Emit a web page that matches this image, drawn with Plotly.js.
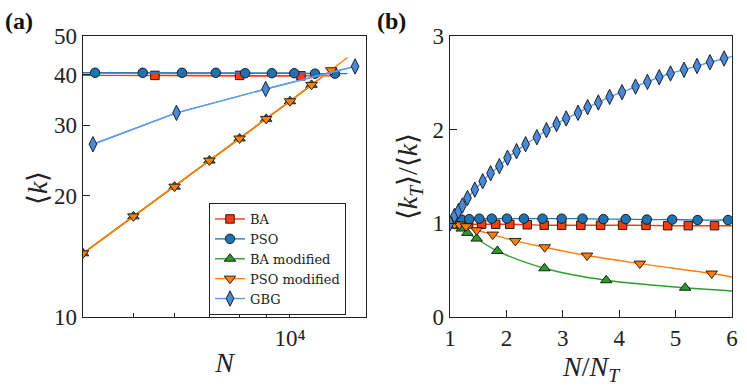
<!DOCTYPE html>
<html>
<head>
<meta charset="utf-8">
<script src="https://cdn.plot.ly/plotly-3.0.1.min.js"></script>
<style>
  html, body { margin: 0; padding: 0; background: #fff; }
  #chart { width: 747px; height: 387px; }
</style>
</head>
<body>
<div id="chart"></div>
<script>
// ---- panel (a): <k> vs N ----
const aN_BA = [4000, 5500, 8000, 10500, 12500];
const aK_BA = [39.9, 39.9, 39.9, 39.8, 39.8];
const aMark_BA = [1, 2, 3];

const aN_PSO = [4000, 4220, 5210, 6200, 7200, 8200, 9230, 10190, 11170, 12200, 12900];
const aK_PSO = [40.5, 40.5, 40.5, 40.5, 40.5, 40.4, 40.4, 40.4, 40.3, 40.3, 40.3];
const aMark_PSO = [1, 2, 3, 4, 5, 6, 7, 8, 9];

const aN_BAm = [4000, 5000, 6000, 7000, 8000, 9000, 10000, 11000];
const aK_BAm = [14.4, 17.8, 21.1, 24.5, 27.8, 31.1, 34.4, 37.8];
const aMark_BAm = [0, 1, 2, 3, 4, 5, 6, 7];

const aN_PSOm = [4000, 5000, 6000, 7000, 8000, 9000, 10000, 11000, 12000, 12900];
const aK_PSOm = [14.4, 17.8, 21.1, 24.5, 27.8, 31.1, 34.4, 37.8, 41.1, 44.2];
const aMark_PSOm = [0, 1, 2, 3, 4, 5, 6, 7, 8];

const aN_GBG = [4180, 6050, 8980, 13340];
const aK_GBG = [26.9, 32.2, 36.9, 42.0];
const aMark_GBG = [0, 1, 2, 3];

// ---- panel (b): <k_T>/<k> vs N/N_T ----
const bX_BA = [1.0, 1.14, 1.33, 1.56, 1.81, 2.06, 2.37, 2.67, 2.98, 3.32, 3.67, 4.06, 4.475, 4.86, 5.225, 5.69, 6.0];
const bY_BA = [1.0, 0.99, 0.99, 0.99, 0.99, 0.99, 0.985, 0.98, 0.98, 0.98, 0.98, 0.98, 0.978, 0.975, 0.975, 0.975, 0.975];
const bMark_BA = [0, 1, 2, 3, 4, 5, 6, 7, 8, 9, 10, 11, 12, 13, 14, 15];

const bX_PSO = [1.0, 1.1, 1.207, 1.34, 1.52, 1.74, 2.01, 2.31, 2.64, 2.98, 3.35, 3.72, 4.115, 4.49, 4.94, 5.39, 5.93, 6.0];
const bY_PSO = [1.0, 1.03, 1.04, 1.045, 1.05, 1.05, 1.05, 1.05, 1.05, 1.05, 1.05, 1.045, 1.045, 1.04, 1.04, 1.035, 1.035, 1.035];
const bMark_PSO = [0, 1, 2, 3, 4, 5, 6, 7, 8, 9, 10, 11, 12, 13, 14, 15, 16];

const bX_BAm = [1.0, 1.1, 1.207, 1.307, 1.473, 1.839, 2.675, 3.77, 5.17, 6.0];
const bY_BAm = [1.0, 0.975, 0.944, 0.898, 0.837, 0.705, 0.52, 0.392, 0.312, 0.278];
const bMark_BAm = [0, 1, 2, 3, 4, 5, 6, 7, 8];

const bX_PSOm = [1.0, 1.08, 1.166, 1.284, 1.473, 1.757, 2.158, 2.68, 3.43, 4.365, 5.64, 6.0];
const bY_PSOm = [1.0, 0.99, 0.987, 0.969, 0.926, 0.88, 0.812, 0.745, 0.656, 0.57, 0.464, 0.427];
const bMark_PSOm = [0, 1, 2, 3, 4, 5, 6, 7, 8, 9, 10];

const bX_GBG = [1.0, 1.08, 1.15, 1.22, 1.31, 1.44, 1.58, 1.72, 1.875, 2.02, 2.18, 2.34, 2.54, 2.71, 2.89, 3.06, 3.27, 3.44, 3.63, 3.83, 4.05, 4.29, 4.5, 4.71, 4.91, 5.15, 5.38, 5.61, 5.86, 6.0];
const bY_GBG = [1.0, 1.08, 1.13, 1.19, 1.27, 1.36, 1.45, 1.535, 1.61, 1.70, 1.77, 1.845, 1.92, 1.995, 2.06, 2.12, 2.18, 2.24, 2.29, 2.35, 2.40, 2.46, 2.51, 2.56, 2.60, 2.64, 2.68, 2.72, 2.76, 2.78];
const bMark_GBG = bX_GBG.map((_, i) => i).slice(0, 29);

const FONT = '"Liberation Serif", "Times New Roman", serif';
const LEGFONT = '"DejaVu Serif", serif';
const INK = '#222';

const styles = {
    BA:   { name: 'BA',           line: '#f83c0c', fill: '#f83c0c', symbol: 'square',        size: 8.5 },
    PSO:  { name: 'PSO',          line: '#2a7bbd', fill: '#1f72b2', symbol: 'circle',        size: 9.5 },
    BAm:  { name: 'BA modified',  line: '#2ca02c', fill: '#2a9a2a', symbol: 'triangle-up',   size: 10 },
    PSOm: { name: 'PSO modified', line: '#ff7f0e', fill: '#ff7f0e', symbol: 'triangle-down', size: 10 },
    GBG:  { name: 'GBG',          line: '#5b9cec', fill: '#4a88d8', symbol: 'diamond-tall',  size: 11 }
};

const traces = [];

function addSeries(key, xs, ys, marks, xa, ya, legend, shape) {
    const s = styles[key];
    traces.push({
        x: xs, y: ys, xaxis: xa, yaxis: ya,
        type: 'scatter', mode: 'lines',
        line: { color: s.line, width: 1.4, shape: shape || 'linear' },
        showlegend: false, hoverinfo: 'skip'
    });
    traces.push({
        x: marks.map(i => xs[i]), y: marks.map(i => ys[i]), xaxis: xa, yaxis: ya,
        type: 'scatter', mode: legend ? 'lines+markers' : 'markers',
        name: s.name,
        line: { color: s.line, width: 1.4 },
        marker: { symbol: s.symbol, size: s.size, color: s.fill, line: { color: '#111', width: 0.9 } },
        showlegend: legend
    });
}

addSeries('BA',   aN_BA,   aK_BA,   aMark_BA,   'x', 'y', true);
addSeries('PSO',  aN_PSO,  aK_PSO,  aMark_PSO,  'x', 'y', true);
addSeries('BAm',  aN_BAm,  aK_BAm,  aMark_BAm,  'x', 'y', true);
addSeries('PSOm', aN_PSOm, aK_PSOm, aMark_PSOm, 'x', 'y', true);
addSeries('GBG',  aN_GBG,  aK_GBG,  aMark_GBG,  'x', 'y', true);

addSeries('BA',   bX_BA,   bY_BA,   bMark_BA,   'x2', 'y2', false, 'spline');
addSeries('PSO',  bX_PSO,  bY_PSO,  bMark_PSO,  'x2', 'y2', false, 'spline');
addSeries('BAm',  bX_BAm,  bY_BAm,  bMark_BAm,  'x2', 'y2', false, 'spline');
addSeries('PSOm', bX_PSOm, bY_PSOm, bMark_PSOm, 'x2', 'y2', false, 'spline');
addSeries('GBG',  bX_GBG,  bY_GBG,  bMark_GBG,  'x2', 'y2', false, 'spline');

// plot area in page pixels: x 83..732, y 36..317
const M = { l: 83, r: 15, t: 36, b: 70 };
const PW = 747 - M.l - M.r, PH = 387 - M.t - M.b;
const px = v => (v - M.l) / PW;
const py = v => (387 - M.b - v) / PH;

const axisBase = {
    showline: true, mirror: true, linecolor: INK, linewidth: 1.3,
    showgrid: false, zeroline: false,
    ticks: 'inside', ticklen: 7, tickwidth: 1, tickcolor: INK,
    tickfont: { family: FONT, size: 23, color: INK }
};

const layout = {
    width: 747, height: 387,
    margin: M,
    paper_bgcolor: '#fff', plot_bgcolor: '#fff',
    font: { family: FONT, color: INK },
    showlegend: true,
    legend: {
        x: px(209), y: py(203), xanchor: 'left', yanchor: 'top',
        bgcolor: '#fff', bordercolor: INK, borderwidth: 1,
        font: { family: LEGFONT, size: 13, color: INK },
        itemwidth: 30, tracegroupgap: 0
    },
    xaxis: Object.assign({}, axisBase, {
        type: 'log', domain: [0, px(366)],
        range: [Math.log10(4000), Math.log10(14000)],
        tickmode: 'array', tickvals: [10000], ticktext: ['10⁴'],
        ticklen: 8,
        minor: { tickmode: 'array', tickvals: [5000, 6000, 7000, 8000, 9000], ticks: 'inside', ticklen: 4, tickcolor: INK },
        title: { text: '<i>N</i>', font: { family: FONT, size: 28, color: INK }, standoff: 2 }
    }),
    yaxis: Object.assign({}, axisBase, {
        type: 'log', range: [1, Math.log10(50)],
        tickmode: 'array', tickvals: [10, 20, 30, 40, 50], ticktext: ['10', '20', '30', '40', '50']
    }),
    xaxis2: Object.assign({}, axisBase, {
        anchor: 'y2', domain: [px(450), 1],
        range: [1, 6], tickmode: 'linear', tick0: 1, dtick: 1,
        title: { text: '<i>N</i>/<i>N</i><sub><i>T</i></sub>', font: { family: FONT, size: 28, color: INK }, standoff: 2 }
    }),
    yaxis2: Object.assign({}, axisBase, {
        anchor: 'x2', range: [0, 3], tickmode: 'linear', tick0: 0, dtick: 1,
        title: { text: '⟨<i>k</i><sub><i>T</i></sub>⟩/⟨<i>k</i>⟩', font: { family: FONT, size: 28, color: INK }, standoff: 6 }
    }),
    annotations: [
        { text: '⟨<i>k</i>⟩', xref: 'paper', yref: 'paper', x: px(37), y: py(188), xanchor: 'center', yanchor: 'middle',
          textangle: -90, showarrow: false, font: { family: FONT, size: 28, color: INK } },
        { text: '<b>(a)</b>', xref: 'paper', yref: 'paper', x: px(3), y: py(21), xanchor: 'left', yanchor: 'middle',
          showarrow: false, font: { family: FONT, size: 24, color: '#111' } },
        { text: '<b>(b)</b>', xref: 'paper', yref: 'paper', x: px(375), y: py(21), xanchor: 'left', yanchor: 'middle',
          showarrow: false, font: { family: FONT, size: 24, color: '#111' } }
    ]
};

Plotly.newPlot('chart', traces, layout, { staticPlot: true, displayModeBar: false });
</script>
</body>
</html>
